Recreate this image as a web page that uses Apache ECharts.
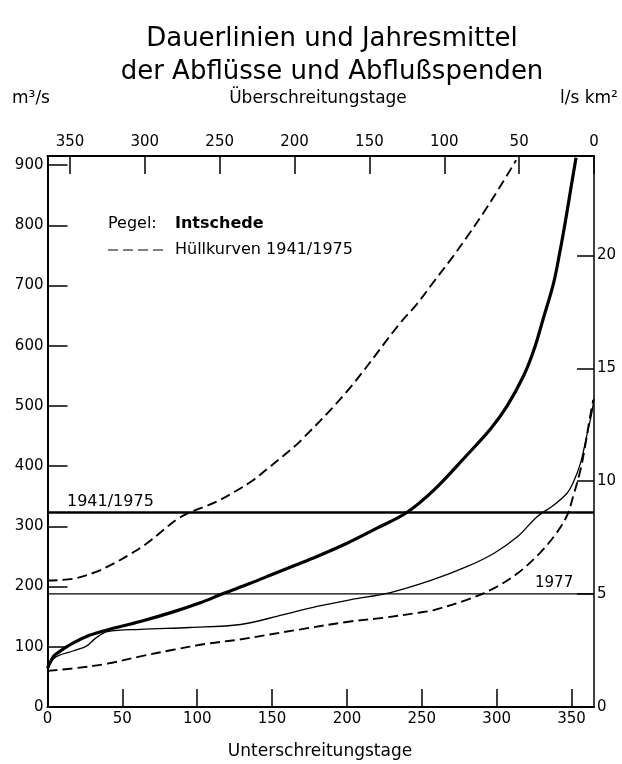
<!DOCTYPE html>
<html>
<head>
<meta charset="utf-8">
<script src="https://cdn.jsdelivr.net/npm/echarts@6/dist/echarts.min.js"></script>
<style>
html,body{margin:0;padding:0;background:#fff;}
#chart{width:622px;height:764px;}
</style>
</head>
<body>
<div id="chart"></div>
<script>
// ---- Data ----
// Intschede mean duration curve (thick), Unterschreitungstage -> m³/s
const meanDays = [0, 4, 8, 17, 28, 40, 62, 84, 102, 117, 135, 150, 165, 180, 200, 220, 240, 258, 280, 296, 307, 318, 325, 331, 338, 342, 346, 350, 353];
const meanQ    = [64, 84, 92, 106, 119, 128, 142, 158, 173, 188, 205, 220, 235, 250, 272, 297, 323, 360, 418, 462, 500, 550, 594, 644, 704, 753, 808, 868, 912];

// Year 1977 duration curve (thin)
const y1977Days = [0, 4, 8, 17, 26, 32, 40, 62, 95, 129, 157, 180, 202, 229, 257, 280, 298, 314, 327, 338, 347, 351, 356, 360, 363.5, 365];
const y1977Q    = [64, 80, 86, 93, 101, 114, 125, 129, 132, 137, 153, 167, 178, 190, 211, 233, 255, 283, 316, 335, 355, 372, 405, 449, 488, 512];

// Envelope curves 1941/1975 (dashed)
const upperDays = [0, 17, 32, 44, 56, 66, 77, 86, 95, 104, 113, 124, 137, 147, 157, 169, 200, 235, 247, 257, 269, 280, 291, 302, 313];
const upperQ    = [210, 213, 224, 238, 255, 271, 293, 311, 323, 332, 341, 356, 376, 396, 416, 442, 524, 636, 670, 703, 742, 780, 820, 863, 908];
const lowerDays = [0, 17, 40, 62, 84, 106, 128, 169, 202, 224, 249, 258, 280, 298, 314, 329, 340, 347, 351, 356, 359, 362, 364.5];
const lowerQ    = [60, 64, 72, 84, 95, 105, 112, 129, 142, 148, 157, 161, 178, 197, 222, 256, 289, 318, 349, 394, 432, 477, 510];

// Annual means (m³/s)
const mean19411975 = 323;
const mean1977 = 188;

// Axis settings
const dayMin = 0, dayMax = 365, dayStep = 50;
const qMin = 0, qMax = 915, qStep = 100;
const spendeMax = 24.4, spendeStep = 5;

const titleLines = ['Dauerlinien und Jahresmittel', 'der Abflüsse und Abflußspenden'];

function zip(a, b) { return a.map((x, i) => [x, b[i]]); }

const FONT = '"DejaVu Sans", sans-serif';
const chart = echarts.init(document.getElementById('chart'), null, {renderer: 'canvas'});

const axisLbl = {color: '#000', fontSize: 15, fontFamily: FONT};

function txt(x, y, text, size, opts) {
  opts = opts || {};
  return {
    type: 'text', x: x, y: y, silent: true,
    style: {
      text: text,
      fill: '#000',
      font: (opts.weight || 'normal') + ' ' + size + 'px ' + FONT,
      textAlign: opts.align || 'left',
      textVerticalAlign: 'middle',
      align: opts.align || 'left',
      verticalAlign: 'middle'
    }
  };
}

const tickStyle = {color: '#000', width: 1.5};

const option = {
  backgroundColor: '#fff',
  animation: false,
  grid: {left: 47.5, right: 28, top: 156, bottom: 57, containLabel: false},
  xAxis: [
    {
      type: 'value', position: 'bottom', min: dayMin, max: dayMax, interval: dayStep,
      axisLine: {show: true, onZero: false, lineStyle: {color: '#000', width: 2}},
      axisTick: {show: true, inside: true, length: 18, lineStyle: tickStyle},
      axisLabel: Object.assign({margin: 5, showMaxLabel: false}, axisLbl),
      splitLine: {show: false}
    },
    {
      type: 'value', position: 'top', min: dayMin, max: dayMax, interval: dayStep, inverse: true,
      axisLine: {show: true, onZero: false, lineStyle: {color: '#000', width: 2}},
      axisTick: {show: true, inside: true, length: 18, lineStyle: tickStyle},
      axisLabel: Object.assign({margin: 6, showMaxLabel: false}, axisLbl),
      splitLine: {show: false}
    }
  ],
  yAxis: [
    {
      type: 'value', position: 'left', min: qMin, max: qMax, interval: qStep,
      axisLine: {show: true, onZero: false, lineStyle: {color: '#000', width: 2}},
      axisTick: {show: true, inside: true, length: 20, lineStyle: tickStyle},
      axisLabel: Object.assign({margin: 4, showMaxLabel: false}, axisLbl),
      splitLine: {show: false}
    },
    {
      type: 'value', position: 'right', min: 0, max: spendeMax, interval: spendeStep,
      axisLine: {show: true, onZero: false, lineStyle: {color: '#000', width: 1.5}},
      axisTick: {show: true, inside: true, length: 17, lineStyle: tickStyle},
      axisLabel: Object.assign({margin: 3, showMaxLabel: false}, axisLbl),
      splitLine: {show: false}
    }
  ],
  series: [
    {
      type: 'line', name: 'Intschede', data: zip(meanDays, meanQ),
      showSymbol: false, smooth: 0.35,
      lineStyle: {color: '#000', width: 3.2}, z: 5
    },
    {
      type: 'line', name: '1977', data: zip(y1977Days, y1977Q),
      showSymbol: false, smooth: 0.35,
      lineStyle: {color: '#000', width: 1.3}, z: 4
    },
    {
      type: 'line', name: 'Hüllkurven 1941/1975 max', data: zip(upperDays, upperQ),
      showSymbol: false, smooth: 0.35,
      lineStyle: {color: '#000', width: 1.9, type: [10, 5]}, z: 4
    },
    {
      type: 'line', name: 'Hüllkurven 1941/1975 min', data: zip(lowerDays, lowerQ),
      showSymbol: false, smooth: 0.35,
      lineStyle: {color: '#000', width: 1.9, type: [10, 5]}, z: 4
    },
    {
      type: 'line', name: 'MQ 1941/1975', data: [[dayMin, mean19411975], [dayMax, mean19411975]],
      showSymbol: false, lineStyle: {color: '#000', width: 2.6}, z: 3
    },
    {
      type: 'line', name: 'MQ 1977', data: [[dayMin, mean1977], [dayMax, mean1977]],
      showSymbol: false, lineStyle: {color: '#000', width: 1.3}, z: 3
    }
  ],
  graphic: [
    txt(332, 39, titleLines[0], 26, {align: 'center'}),
    txt(332, 72, titleLines[1], 26, {align: 'center'}),
    txt(12, 99, 'm³/s', 17),
    txt(318, 99, 'Überschreitungstage', 17, {align: 'center'}),
    txt(560, 99, 'l/s km²', 17),
    txt(320, 752, 'Unterschreitungstage', 17, {align: 'center'}),
    txt(108, 224, 'Pegel:', 16),
    txt(175, 224, 'Intschede', 16, {weight: 'bold'}),
    {
      type: 'line', silent: true,
      shape: {x1: 108, y1: 250, x2: 163, y2: 250},
      style: {stroke: '#000', lineWidth: 1.2, lineDash: [10, 5]}
    },
    txt(175, 250, 'Hüllkurven 1941/1975', 16),
    txt(67, 502, '1941/1975', 16),
    txt(535, 583, '1977', 15)
  ]
};
chart.setOption(option);
</script>
</body>
</html>
